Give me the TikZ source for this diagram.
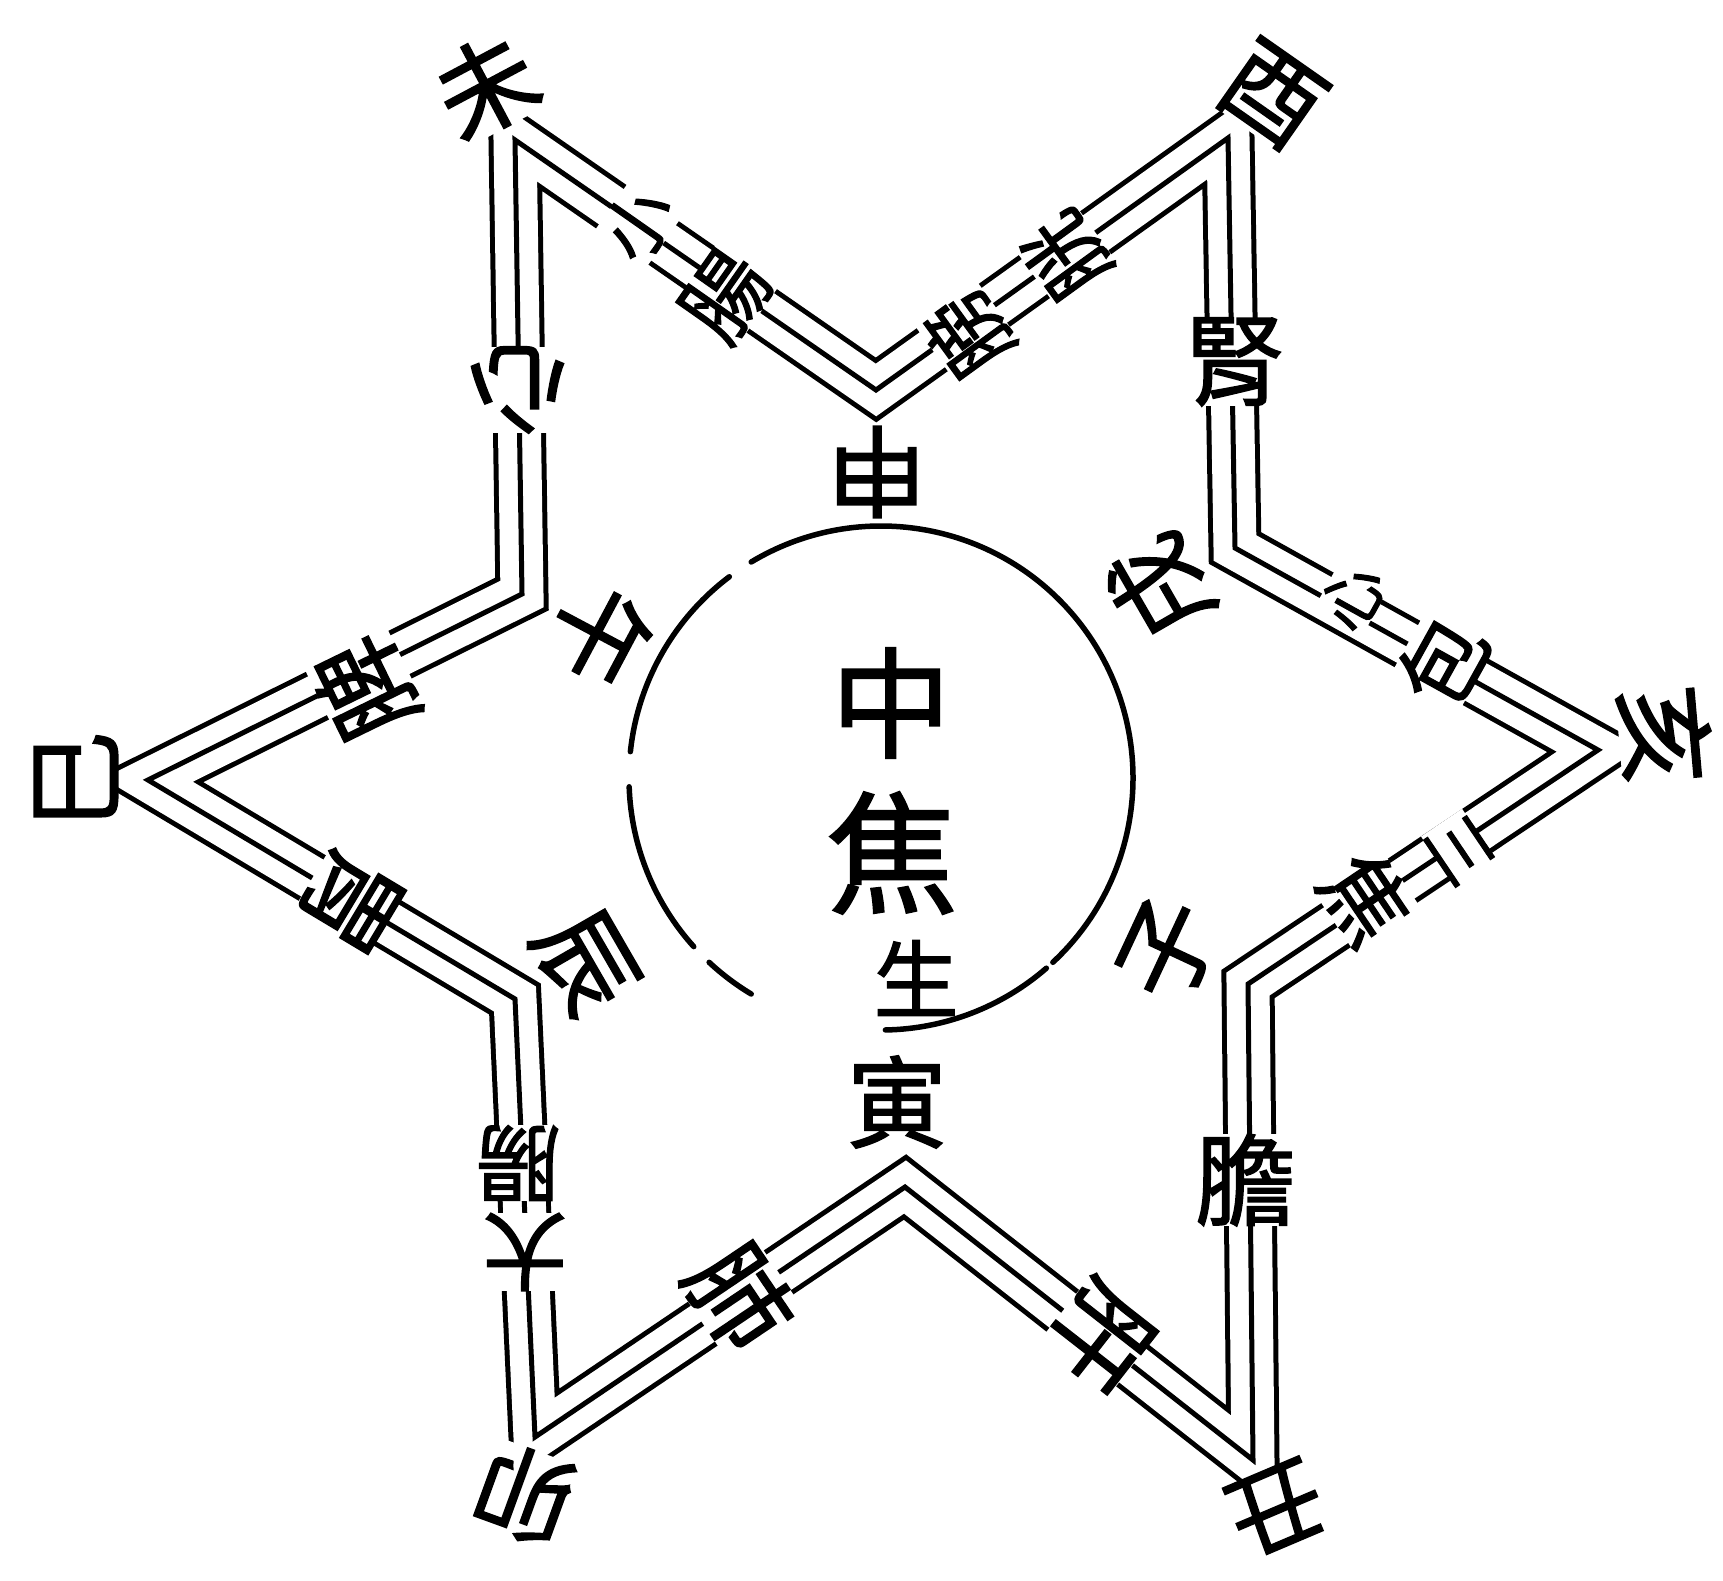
\documentclass[tikz,border=0pt]{standalone}
\usepackage{fontspec}
\newfontfamily\cjk{Noto Sans CJK TC}[FakeBold=1.5]
\begin{document}
\begin{tikzpicture}[x=1pt,y=-1pt,
  band/.style={line width=53pt,line join=miter},
  gapband/.style={white,line width=43pt,line join=miter},
  core/.style={line width=5pt,line join=miter},
  lab/.style={font=\cjk\fontsize{#1}{#1}\selectfont,fill=white,inner sep=0pt},
  lab/.default={100pt},
  mid/.style={font=\cjk\fontsize{#1}{#1}\selectfont,inner sep=0pt},
  circ/.style={line width=5.5pt,line cap=round}]
\useasboundingbox (0,0) rectangle (1723,1581);
% star vertices (middle line)
\coordinate (wei) at (515,140);
\coordinate (shen) at (876,390);
\coordinate (you) at (1228,138);
\coordinate (xu) at (1235,548);
\coordinate (hai) at (1598,750);
\coordinate (zi) at (1248,984);
\coordinate (chou) at (1253,1460);
\coordinate (yin) at (905,1187);
\coordinate (mao) at (535,1437);
\coordinate (chen) at (515,999);
\coordinate (si) at (148,780);
\coordinate (wu) at (522,594);
\foreach \s in {band,gapband,core}
  \draw[\s] (wei)--(shen)--(you)--(xu)--(hai)--(zi)--(chou)--(yin)--(mao)--(chen)--(si)--(wu)--cycle;
% central circle (broken arcs)
\coordinate (C) at (881,778);
\draw[circ] (C) ++(47:252) arc[start angle=47,end angle=-121,radius=252];
\draw[circ] (C) ++(-127:252) arc[start angle=-127,end angle=-174,radius=252];
\draw[circ] (C) ++(-182:252) arc[start angle=-182,end angle=-222,radius=252];
\draw[circ] (C) ++(-227:252) arc[start angle=-227,end angle=-239,radius=252];
\draw[circ] (C) ++(-271:252) arc[start angle=-271,end angle=-311,radius=252];
% centre text
\node[mid=120pt] (tzhong) at (891,703) {中};
\node[mid=132pt] (tjiao) at (892,853) {焦};
\node[mid=85pt] (tsheng) at (916,978) {生};
% branch labels at vertices
\node[lab,rotate=28] (lwei) at (486,86) {未};
\node[lab,rotate=180] (lshen) at (877,472) {申};
\node[lab,rotate=-35] (lyou) at (1272,95) {酉};
\node[lab,rotate=120] (lxu) at (1160,588) {戌};
\node[lab,rotate=-85] (lhai) at (1665,735) {亥};
\node[lab,rotate=65] (lzi) at (1168,950) {子};
\node[lab=95pt,rotate=-157] (lchou) at (1276,1508) {丑};
\node[lab,rotate=0] (lyin) at (897,1102) {寅};
\node[lab,rotate=160] (lmao) at (525,1495) {卯};
\node[lab,rotate=-60] (lchen) at (585,962) {辰};
\node[lab,rotate=90] (lsi) at (76,780) {巳};
\node[lab,rotate=-118] (lwu) at (600,635) {午};
% organ labels on edges
\node[lab=70pt,rotate=55] (exiao) at (638,224) {小};
\node[lab=85pt,rotate=55] (echang1) at (726,296) {腸};
\node[lab=82pt,rotate=126] (epang) at (968,334) {膀};
\node[lab=82pt,rotate=126] (eguang) at (1066,256) {胱};
\node[lab,rotate=0] (eshen) at (1235,362) {腎};
\node[lab=64pt,rotate=61] (exin2) at (1352,597) {心};
\node[lab=86pt,rotate=61] (ebao) at (1442,662) {包};
\node[lab=66pt,rotate=-56] (esan) at (1460,850) {三};
\node[lab=86pt,rotate=-56] (ejiao) at (1366,898) {焦};
\node[lab,rotate=0] (edan) at (1245,1180) {膽};
\node[lab,rotate=-128] (egan) at (1100,1335) {肝};
\node[lab,rotate=-56] (efei) at (740,1297) {肺};
\node[lab=85pt,rotate=180] (eda) at (525,1252) {大};
\node[lab=85pt,rotate=180] (echang2) at (518,1163) {腸};
\node[lab,rotate=-121] (ewei) at (350,900) {胃};
\node[lab,rotate=116] (epi) at (365,688) {脾};
\node[lab,rotate=180] (exin) at (518,390) {心};
\end{tikzpicture}
\end{document}
